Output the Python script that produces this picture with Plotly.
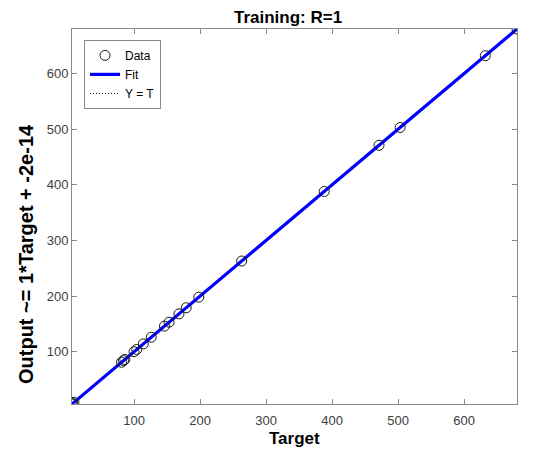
import plotly.graph_objects as go

# ---- data ----
targets = [6, 7, 9, 81, 84, 86, 100, 104, 114, 126, 146, 153, 168, 179, 198, 263, 388, 471, 503, 632, 680]
outputs = [6, 7, 9, 81, 84, 86, 100, 104, 114, 126, 146, 153, 168, 179, 198, 263, 388, 471, 503, 632, 680]
fit_slope = 1.0
fit_intercept = -2e-14
x_ticks = [100, 200, 300, 400, 500, 600]
y_ticks = [100, 200, 300, 400, 500, 600]
title_text = "Training: R=1"
x_label = "Target"
y_label = "Output ~= 1*Target + -2e-14"

lo = min(min(targets), min(outputs))
hi = max(max(targets), max(outputs))
line_x = [lo, hi]
fit_y = [fit_slope * v + fit_intercept for v in line_x]

fig = go.Figure()
# draw order: Y = T (bottom), Fit, Data (top)
fig.add_trace(go.Scatter(
    x=line_x, y=line_x, mode="lines", name="Y = T", legendrank=3,
    line=dict(color="#000000", width=1, dash="1px,2px"),
))
fig.add_trace(go.Scatter(
    x=line_x, y=fit_y, mode="lines", name="Fit", legendrank=2,
    line=dict(color="#0000ff", width=3.2),
))
fig.add_trace(go.Scatter(
    x=targets, y=outputs, mode="markers", name="Data", legendrank=1,
    marker=dict(symbol="circle-open", size=10, color="#1a1a1a", line=dict(width=1, color="#1a1a1a")),
))

axis_common = dict(
    showgrid=False, zeroline=False, showline=True, linecolor="#8a8a8a", linewidth=1,
    mirror="ticks", ticks="inside", ticklen=5, tickcolor="#8a8a8a", tickwidth=1,
    tickfont=dict(family="Liberation Sans, Arial, sans-serif", size=13, color="#404040"),
)

fig.update_layout(
    width=534, height=452,
    margin=dict(l=72, r=17, t=29, b=47.5),
    paper_bgcolor="white", plot_bgcolor="white",
    showlegend=True,
    legend=dict(
        x=0.027, y=0.971, xanchor="left", yanchor="top",
        bgcolor="white", bordercolor="#8a8a8a", borderwidth=1,
        font=dict(family="Liberation Sans, Arial, sans-serif", size=12, color="#000000"),
        traceorder="normal", tracegroupgap=0,
    ),
    xaxis=dict(range=[lo, hi], tickvals=x_ticks, ticklabelstandoff=4, **axis_common),
    yaxis=dict(range=[lo, hi], tickvals=y_ticks, **axis_common),
    annotations=[
        dict(text="<b>" + title_text + "</b>", xref="paper", yref="paper", x=0.485, y=1.0,
             yshift=12, xanchor="center", yanchor="middle", showarrow=False,
             font=dict(family="Liberation Sans, Arial, sans-serif", size=17, color="#000000")),
        dict(text="<b>" + x_label + "</b>", xref="paper", yref="paper", x=0.5, y=0,
             yshift=-34, xanchor="center", yanchor="middle", showarrow=False,
             font=dict(family="Liberation Sans, Arial, sans-serif", size=17, color="#000000")),
        dict(text="<b>" + y_label + "</b>", xref="paper", yref="paper", x=0, y=0.40,
             xshift=-46, xanchor="center", yanchor="middle", textangle=-90, showarrow=False,
             font=dict(family="Liberation Sans, Arial, sans-serif", size=20, color="#000000")),
    ],
)

fig.write_html("out.html", config={"displayModeBar": False},
               post_script="document.body.style.margin='0';")
